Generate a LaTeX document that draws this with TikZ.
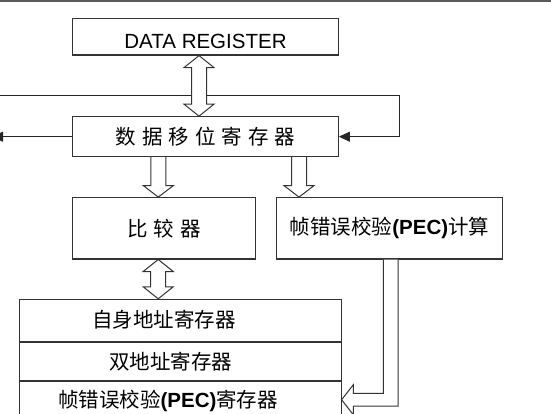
\documentclass[tikz,border=0pt]{standalone}
\usepackage{fontspec}
\setmainfont{Liberation Sans}
\newfontfamily\cjk[WordSpace=1.3]{Noto Sans CJK SC}
\usetikzlibrary{calc,positioning,arrows.meta}

% hollow arrow, head at the second point
\newcommand{\fatdown}[2]{%
  \draw[fat] let \p1=#1, \p2=#2 in
    (\x1-7.5pt,\y1) -- (\x1-7.5pt,\y2+11.5pt) -- (\x1-15pt,\y2+11.5pt) -- (\x1,\y2)
    -- (\x1+15pt,\y2+11.5pt) -- (\x1+7.5pt,\y2+11.5pt) -- (\x1+7.5pt,\y1);}
% hollow arrow, heads at both ends
\newcommand{\fatboth}[2]{%
  \draw[fat] let \p1=#1, \p2=#2 in
    (\x1,\y1) -- (\x1+15pt,\y1-12pt) -- (\x1+7.5pt,\y1-12pt) -- (\x1+7.5pt,\y2+12pt)
    -- (\x1+15pt,\y2+12pt) -- (\x1,\y2) -- (\x1-15pt,\y2+12pt) -- (\x1-7.5pt,\y2+12pt)
    -- (\x1-7.5pt,\y1-12pt) -- (\x1-15pt,\y1-12pt) -- cycle;}

\begin{document}
\begin{tikzpicture}[x=1pt,y=-1pt,
  box/.style={draw=black!80, line width=1.1pt, minimum width=265.6pt,
    minimum height=36.7pt, inner sep=0pt, font=\fontsize{20.5}{24}\selectfont},
  rowtext/.style={inner sep=0pt, font=\fontsize{20.5}{24}\selectfont},
  fat/.style={draw=black!80, line width=1pt, fill=white},
  thin/.style={draw=black!85, line width=1pt}]
\useasboundingbox (0,0) rectangle (551,414);
\clip (0,0) rectangle (551,414);
\draw[line width=2pt, black!65] (0,1) -- (551,1);

\node[box, text height=23.7pt, text depth=0pt] (datareg) at (205.5,36.7) {DATA REGISTER};
\node[box, minimum height=40pt] (shiftreg) at (205.5,136.7) {\cjk 数 据 移 位 寄 存 器};
\node[box, minimum width=183pt, minimum height=61.3pt] (comp) at (164.2,228.3) {\cjk 比 较 器};
\node[box, minimum width=225.6pt, minimum height=61.3pt] (peccalc) at (389.5,228.3)
  {{\cjk 帧错误校验}\textbf{(PEC)}{\cjk 计算}};
\node[box, minimum width=321.7pt, minimum height=41.7pt] (ownaddr) at (180.2,320.2) {};
\node[box, minimum width=321.7pt, minimum height=38.3pt, below=0pt of ownaddr] (dualaddr) {};
\node[box, minimum width=321.7pt, minimum height=41.4pt, below=0pt of dualaddr] (pecreg) {};
\node[rowtext] at ([xshift=-16pt]ownaddr.center) {\cjk 自身地址寄存器};
\node[rowtext] at ([xshift=-9.4pt]dualaddr.center) {\cjk 双地址寄存器};
\node[rowtext] at ([xshift=-12.2pt,yshift=1.5pt]pecreg.center)
  {{\cjk 帧错误校验}\textbf{(PEC)}{\cjk 寄存器}};

% feedback and output lines
\coordinate (fbleft) at (0,96);
\coordinate (fbright) at (399.3,96);
\coordinate (outleft) at (-8,136.7);
\draw[thin, -{Triangle[length=11pt,width=10pt]}] (fbleft) -- (fbright) |- (shiftreg.east);
\draw[thin, -{Triangle[length=11pt,width=10pt]}] (shiftreg.west) -- (outleft);

% hollow bus arrows
\fatboth{([xshift=-6.5pt]datareg.south)}{(shiftreg.north)}
\fatdown{([xshift=-47.2pt]shiftreg.south)}{(comp.north)}
\fatdown{([xshift=93.5pt]shiftreg.south)}{(peccalc.north)}
\fatboth{([xshift=-6pt]comp.south)}{(ownaddr.north)}
\draw[fat] let \p1=([xshift=1.2pt]peccalc.south), \p2=([yshift=2.5pt]pecreg.east) in
  (\x1-7.3pt,\y1) -- (\x1-7.3pt,\y2+6.3pt) -- (\x2+11.7pt,\y2+6.3pt) -- (\x2+11.7pt,\y2+15pt)
  -- (\x2,\y2) -- (\x2+11.7pt,\y2-15pt) -- (\x2+11.7pt,\y2-6.3pt) -- (\x1+7.3pt,\y2-6.3pt)
  -- (\x1+7.3pt,\y1);
\end{tikzpicture}
\end{document}
